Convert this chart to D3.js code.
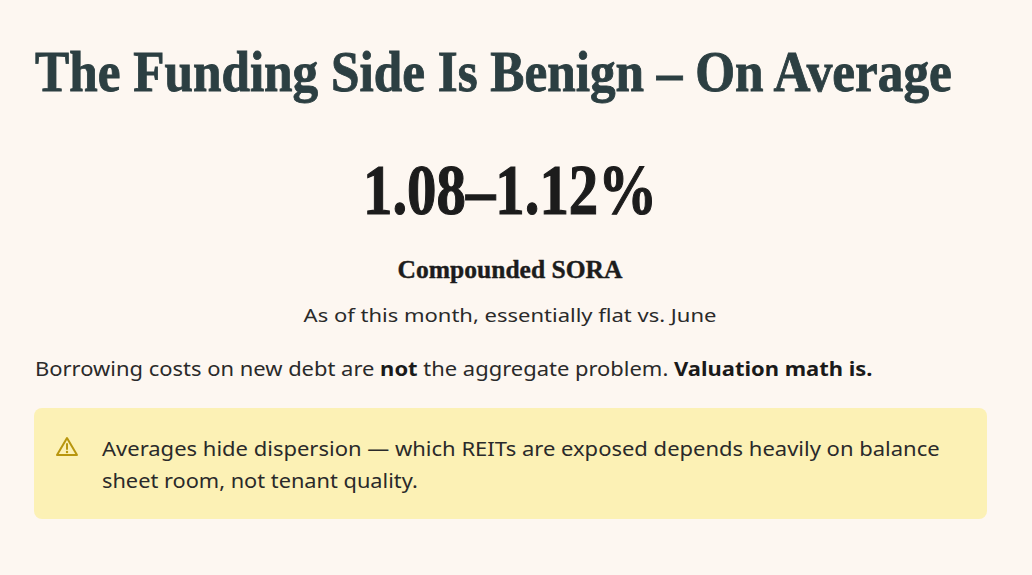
<!DOCTYPE html>
<html lang="en">
<head>
    <meta charset="UTF-8">
    <title>The Funding Side Is Benign</title>
    <script src="https://d3js.org/d3.v7.min.js"></script>
    <style>
        html, body {
            margin: 0;
            padding: 0;
            background-color: #fdf7f1;
        }
        svg {
            display: block;
        }
        .serif {
            font-family: "Liberation Serif", "DejaVu Serif", serif;
            font-weight: bold;
        }
        .sans {
            font-family: "Noto Sans", "Open Sans", sans-serif;
        }
    </style>
</head>
<body>
    <div id="card"></div>

    <script>
        // Content
        const title = "The Funding Side Is Benign \u2013 On Average";
        const soraRange = [1.08, 1.12];
        const statLabel = "Compounded SORA";
        const statNote = "As of this month, essentially flat vs. June";
        // paragraph segments: [text, bold?]
        const takeaway = [
            ["Borrowing costs on new debt are ", false],
            ["not", true],
            [" the aggregate problem. ", false],
            ["Valuation math is.", true]
        ];
        const calloutLines = [
            "Averages hide dispersion \u2014 which REITs are exposed depends heavily on balance",
            "sheet room, not tenant quality."
        ];

        const w = 1032;
        const h = 575;
        const fmt = d3.format(".2f");

        const svg = d3.select("#card")
            .append("svg")
            .attr("width", w)
            .attr("height", h);

        svg.append("rect")
            .attr("width", w)
            .attr("height", h)
            .attr("fill", "#fdf7f1");

        // squeeze / stretch a text horizontally so it spans the given width
        // (x, y and anchor are given in page pixels)
        function fitText(sel, x, y, width, anchor) {
            const natural = sel.node().getComputedTextLength();
            const sx = width / natural;
            sel.attr("x", 0).attr("y", 0)
                .attr("text-anchor", anchor || "start")
                .attr("transform", `translate(${x},${y}) scale(${sx},1)`);
            return sel;
        }

        // Title
        const titleText = svg.append("text")
            .attr("class", "serif")
            .attr("font-size", 57)
            .attr("fill", "#2c3f42")
            .attr("stroke", "#2c3f42")
            .attr("stroke-width", 0.9)
            .text(title);
        fitText(titleText, 35, 91, 917);

        // Big stat
        const stat = svg.append("text")
            .attr("class", "serif")
            .attr("font-size", 72)
            .attr("fill", "#1c1c1c")
            .attr("stroke", "#1c1c1c")
            .attr("stroke-width", 1.2)
            .text(`${fmt(soraRange[0])}\u2013${fmt(soraRange[1])}%`);
        fitText(stat, 510, 214, 294, "middle");

        const label = svg.append("text")
            .attr("class", "serif")
            .attr("font-size", 26)
            .attr("fill", "#1c1c1c")
            .attr("stroke", "#1c1c1c")
            .attr("stroke-width", 0.4)
            .text(statLabel);
        fitText(label, 510, 278, 225, "middle");

        const note = svg.append("text")
            .attr("class", "sans")
            .attr("font-size", 19)
            .attr("fill", "#2a2a2a")
            .text(statNote);
        fitText(note, 510, 322, 413, "middle");

        // Takeaway paragraph
        const para = svg.append("text")
            .attr("class", "sans")
            .attr("font-size", 19)
            .attr("fill", "#2a2a2a");

        para.selectAll("tspan")
            .data(takeaway)
            .enter()
            .append("tspan")
            .attr("font-weight", d => d[1] ? "bold" : "normal")
            .attr("fill", d => d[1] ? "#1a1a1a" : "#2a2a2a")
            .text(d => d[0]);
        fitText(para, 35, 376, 838);

        // Callout box
        const box = svg.append("g")
            .attr("transform", "translate(34, 408)");

        box.append("rect")
            .attr("width", 953)
            .attr("height", 111)
            .attr("rx", 8)
            .attr("fill", "#fcf1b5");

        // warning icon
        const icon = box.append("g")
            .attr("transform", "translate(33, 39)");
        icon.append("path")
            .attr("d", "M0,-9 L10,8 L-10,8 Z")
            .attr("fill", "none")
            .attr("stroke", "#b8960e")
            .attr("stroke-width", 2)
            .attr("stroke-linejoin", "round");
        icon.append("line")
            .attr("x1", 0).attr("x2", 0)
            .attr("y1", -3).attr("y2", 2)
            .attr("stroke", "#b8960e")
            .attr("stroke-width", 2)
            .attr("stroke-linecap", "round");
        icon.append("circle")
            .attr("cx", 0).attr("cy", 5)
            .attr("r", 1.2)
            .attr("fill", "#b8960e");

        const lineWidths = [838, 316];
        box.selectAll("text.callout")
            .data(calloutLines)
            .enter()
            .append("text")
            .attr("class", "sans callout")
            .attr("font-size", 20)
            .attr("fill", "#2a2a2a")
            .text(d => d)
            .each(function (d, i) {
                fitText(d3.select(this), 68, 48 + i * 32, lineWidths[i]);
            });
    </script>
</body>
</html>
